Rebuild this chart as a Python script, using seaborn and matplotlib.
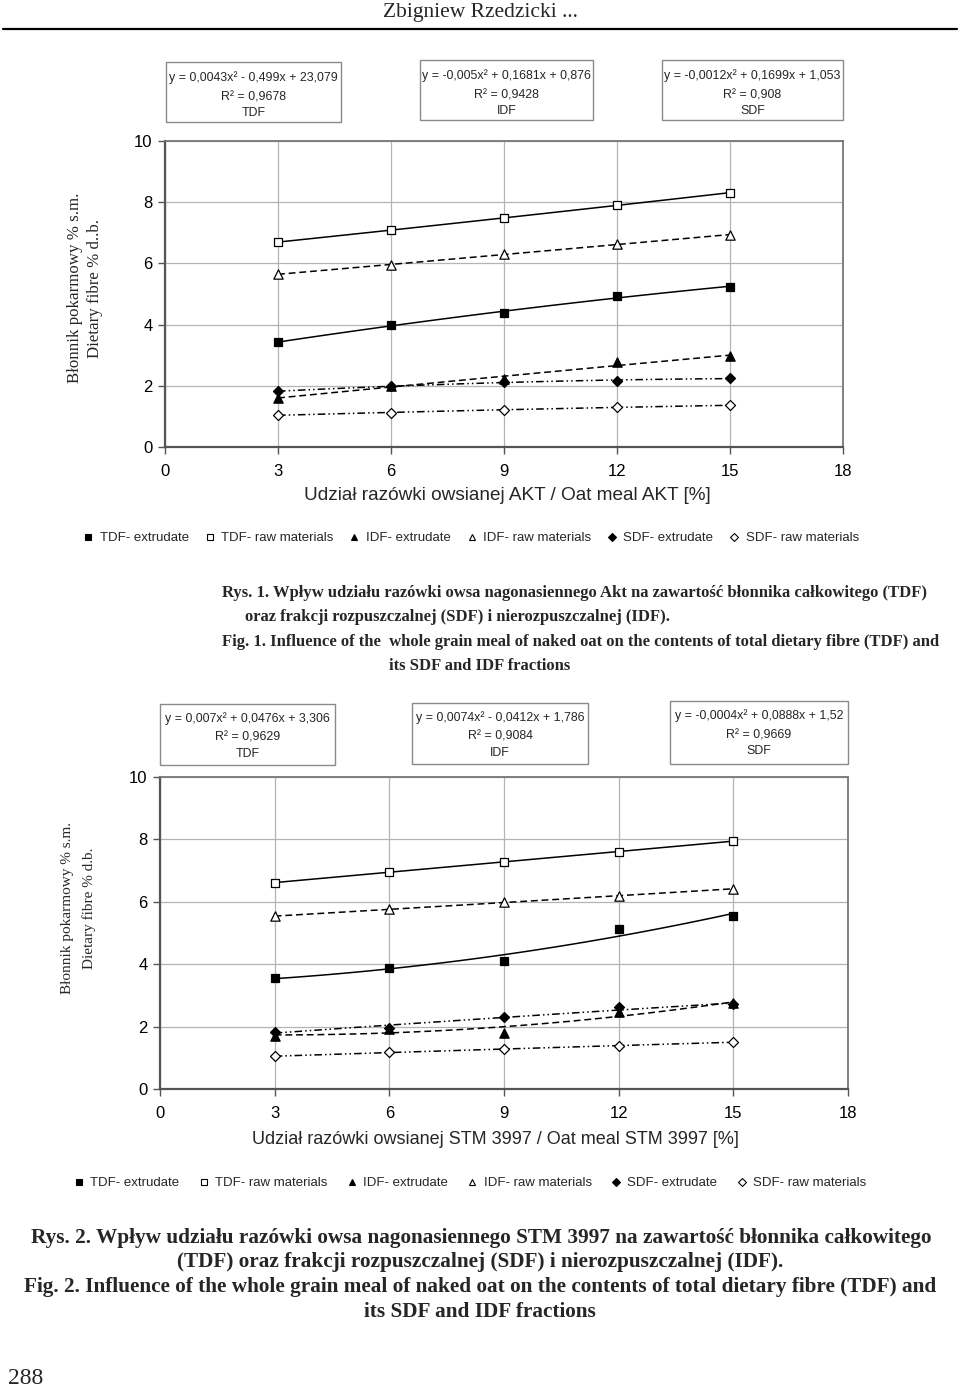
"""
Dietary fibre in extrudates vs raw materials - two oat meal charts
"""

import numpy as np
import pandas as pd
import matplotlib
matplotlib.use('Agg')
import matplotlib.pyplot as plt
from matplotlib.lines import Line2D
from matplotlib.patches import Rectangle
import seaborn as sns

# ====================
# Data
# ====================
share = [3, 6, 9, 12, 15]
series = ['TDF- extrudate', 'TDF- raw materials', 'IDF- extrudate',
          'IDF- raw materials', 'SDF- extrudate', 'SDF- raw materials']

# Fig. 1 - AKT
akt_tdf_ext = [3.43, 3.98, 4.37, 4.94, 5.23]
akt_tdf_raw = [6.70, 7.08, 7.49, 7.90, 8.31]
akt_idf_ext = [1.61, 1.98, 2.21, 2.78, 2.96]
akt_idf_raw = [5.65, 5.95, 6.30, 6.62, 6.94]
akt_sdf_ext = [1.82, 1.98, 2.14, 2.15, 2.25]
akt_sdf_raw = [1.04, 1.12, 1.22, 1.30, 1.36]

# Fig. 2 - STM 3997
stm_tdf_ext = [3.56, 3.87, 4.11, 5.14, 5.54]
stm_tdf_raw = [6.61, 6.96, 7.28, 7.60, 7.95]
stm_idf_ext = [1.70, 1.93, 1.80, 2.46, 2.76]
stm_idf_raw = [5.54, 5.76, 5.98, 6.19, 6.42]
stm_sdf_ext = [1.84, 1.95, 2.30, 2.62, 2.71]
stm_sdf_raw = [1.05, 1.17, 1.28, 1.39, 1.50]

akt_eq = [['y = 0,0043x² - 0,499x + 23,079', 'R² = 0,9678', 'TDF'],
          ['y = -0,005x² + 0,1681x + 0,876', 'R² = 0,9428', 'IDF'],
          ['y = -0,0012x² + 0,1699x + 1,053', 'R² = 0,908', 'SDF']]
stm_eq = [['y = 0,007x² + 0,0476x + 3,306', 'R² = 0,9629', 'TDF'],
          ['y = 0,0074x² - 0,0412x + 1,786', 'R² = 0,9084', 'IDF'],
          ['y = -0,0004x² + 0,0888x + 1,52', 'R² = 0,9669', 'SDF']]

# marker, face colour, size
marker_map = {
    'TDF- extrudate': ('s', 'black', 38),
    'TDF- raw materials': ('s', 'white', 38),
    'IDF- extrudate': ('^', 'black', 45),
    'IDF- raw materials': ('^', 'white', 45),
    'SDF- extrudate': ('D', 'black', 26),
    'SDF- raw materials': ('D', 'white', 26),
}
dash_map = {
    'TDF- extrudate': '',
    'TDF- raw materials': '',
    'IDF- extrudate': (4.5, 2.5),
    'IDF- raw materials': (4.5, 2.5),
    'SDF- extrudate': (5, 2, 1, 2, 1, 2),
    'SDF- raw materials': (5, 2, 1, 2, 1, 2),
}

W, H = 960, 1390
sns.set_theme(style='white')
plt.rcParams['font.family'] = ['Liberation Sans', 'DejaVu Sans']

fig = plt.figure(figsize=(W / 100, H / 100), dpi=100)


def fx(x):
    return x / W


def fy(y):
    return 1 - y / H


def ftext(x, y, s, **kw):
    fig.text(fx(x), fy(y), s, **kw)


def draw_chart(rect, values, eqs, boxes, eq_rows, xlabel, xlab_pos, xlab_size, leg_y,
               ylab_x, ylab_y, ylab_size, ylab2):
    x0, y0, x1, y1 = rect
    ax = fig.add_axes([fx(x0), fy(y1), (x1 - x0) / W, (y1 - y0) / H])

    pts = pd.DataFrame({
        'x': share * len(series),
        'y': np.concatenate(values),
        'series': np.repeat(series, len(share)),
    })

    # quadratic trend lines (as in the spreadsheet original)
    fits = []
    xs = np.linspace(min(share), max(share), 120)
    for name, grp in pts.groupby('series', sort=False):
        coef = np.polyfit(grp['x'], grp['y'], 2)
        fits.append(pd.DataFrame({'x': xs, 'y': np.polyval(coef, xs), 'series': name}))
    fits = pd.concat(fits, ignore_index=True)

    sns.lineplot(data=fits, x='x', y='y', style='series', style_order=series,
                 dashes=dash_map, color='black', linewidth=1.1, legend=False,
                 estimator=None, ax=ax)
    for name in series:
        m, fc, s = marker_map[name]
        grp = pts[pts['series'] == name]
        sns.scatterplot(x=grp['x'], y=grp['y'], marker=m, s=s, color=fc,
                        edgecolor='black', linewidth=0.9, ax=ax, zorder=4, clip_on=False)

    ax.set_xlim(0, 18)
    ax.set_ylim(0, 10)
    ax.set_xticks(range(0, 19, 3))
    ax.set_yticks(range(0, 11, 2))
    ax.grid(True, color='#b4b4b4', linewidth=0.9)
    ax.set_axisbelow(True)
    for side in ['left', 'bottom']:
        ax.spines[side].set_color('#555555')
        ax.spines[side].set_linewidth(1.6)
    for side in ['top', 'right']:
        ax.spines[side].set_color('#777777')
        ax.spines[side].set_linewidth(1.3)
    ax.tick_params(axis='both', direction='out', length=5, width=1, color='#555555',
                   labelsize=12, labelcolor='black', pad=4, left=True, bottom=True)
    ax.tick_params(axis='x', pad=7)
    ax.set_xlabel('')
    ax.set_ylabel('')

    # axis titles
    ftext(xlab_pos[0], xlab_pos[1], xlabel, ha='center', va='center', fontsize=xlab_size)
    ftext(ylab_x[0], ylab_y, 'Błonnik pokarmowy % s.m.', rotation=90, ha='center',
          va='center', fontsize=ylab_size, family='Liberation Serif')
    ftext(ylab_x[1], ylab_y, ylab2, rotation=90, ha='center',
          va='center', fontsize=ylab_size, family='Liberation Serif')

    # equation boxes
    for (bx0, by0, bx1, by1), lines in zip(boxes, eqs):
        fig.patches.append(Rectangle((fx(bx0), fy(by1)), (bx1 - bx0) / W, (by1 - by0) / H,
                                     transform=fig.transFigure, facecolor='white',
                                     edgecolor='#8a8a8a', linewidth=1.0))
        for ty, line in zip(eq_rows, lines):
            ftext((bx0 + bx1) / 2, by0 + ty, line, ha='center', va='center', fontsize=8.9)

    # legend (markers only)
    handles = []
    for name in series:
        m, fc, s = marker_map[name]
        handles.append(Line2D([], [], linestyle='None', marker=m, markersize=4.5 if m != 'D' else 3.8,
                              markerfacecolor=fc, markeredgecolor='black', markeredgewidth=0.8))
    fig.legend(handles, series, loc='center', bbox_to_anchor=(fx(leg_y[0]), fy(leg_y[1])),
               ncol=6, frameon=False, fontsize=9.5, handlelength=0.8, handletextpad=0.45,
               columnspacing=leg_y[2])
    return ax


# header
ftext(480, 13, 'Zbigniew Rzedzicki ...', ha='center', va='center', fontsize=15.5,
      family='Liberation Serif')
fig.add_artist(Line2D([fx(3), fx(957)], [fy(29), fy(29)], color='black', linewidth=1.6))

# Fig. 1
draw_chart((165, 141, 843, 447),
           [akt_tdf_ext, akt_tdf_raw, akt_idf_ext, akt_idf_raw, akt_sdf_ext, akt_sdf_raw],
           akt_eq,
           [(166, 62, 341, 122), (420, 60, 593, 120), (662, 60, 843, 120)],
           [16, 35, 51],
           'Udział razówki owsianej AKT / Oat meal AKT [%]', (507, 495), 13.7,
           (471, 538, 1.2),
           (75, 95), 288, 12.2, 'Dietary fibre % d..b.')

# Fig. 2
draw_chart((160, 777, 848, 1089),
           [stm_tdf_ext, stm_tdf_raw, stm_idf_ext, stm_idf_raw, stm_sdf_ext, stm_sdf_raw],
           stm_eq,
           [(160, 704, 335, 765), (412, 703, 588, 764), (670, 701, 848, 764)],
           [15, 34, 50],
           'Udział razówki owsianej STM 3997 / Oat meal STM 3997 [%]', (495, 1140), 13.0,
           (470, 1183, 1.45),
           (68, 89), 908, 11.0, 'Dietary fibre % d.b.')

# captions
cap = dict(family='Liberation Serif', fontweight='bold', va='center')
ftext(222, 593, 'Rys. 1. Wpływ udziału razówki owsa nagonasiennego Akt na zawartość błonnika całkowitego (TDF)',
      ha='left', fontsize=12.0, **cap)
ftext(245, 617, 'oraz frakcji rozpuszczalnej (SDF) i nierozpuszczalnej (IDF).', ha='left', fontsize=12.0, **cap)
ftext(222, 642, 'Fig. 1. Influence of the  whole grain meal of naked oat on the contents of total dietary fibre (TDF) and',
      ha='left', fontsize=12.0, **cap)
ftext(480, 666, 'its SDF and IDF fractions', ha='center', fontsize=12.0, **cap)

ftext(481, 1238, 'Rys. 2. Wpływ udziału razówki owsa nagonasiennego STM 3997 na zawartość błonnika całkowitego',
      ha='center', fontsize=15.3, **cap)
ftext(480, 1262, '(TDF) oraz frakcji rozpuszczalnej (SDF) i nierozpuszczalnej (IDF).', ha='center', fontsize=15.3, **cap)
ftext(480, 1287, 'Fig. 2. Influence of the whole grain meal of naked oat on the contents of total dietary fibre (TDF) and',
      ha='center', fontsize=15.3, **cap)
ftext(480, 1312, 'its SDF and IDF fractions', ha='center', fontsize=15.3, **cap)

# page number
ftext(8, 1379, '288', ha='left', va='center', fontsize=17, family='Liberation Serif')

fig.savefig('out.png', dpi=100)
plt.close(fig)
